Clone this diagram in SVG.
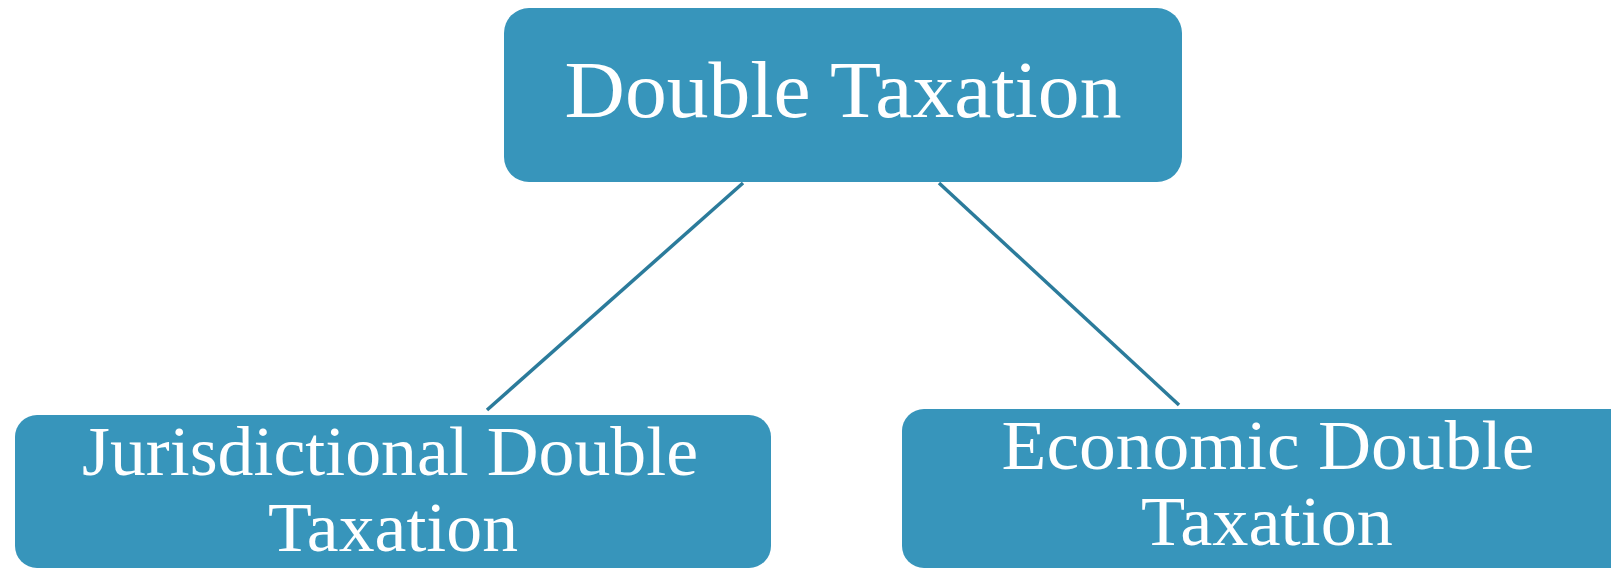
<svg xmlns="http://www.w3.org/2000/svg" width="1611" height="570" viewBox="0 0 1611 570">
  <style>
    .box { fill: #3795bb; }
    .label { fill: #ffffff; font-family: "Liberation Serif", "Times New Roman", serif; text-anchor: middle; }
    .big { font-size: 81px; }
    .small { font-size: 70px; }
    .link { stroke: #2b7b9b; stroke-width: 3.5; fill: none; }
  </style>
  <rect x="0" y="0" width="1611" height="570" fill="#ffffff"/>

  <!-- connectors between the root and its two branches -->
  <g id="connectors">
    <line class="link" x1="743" y1="183" x2="487" y2="410"/>
    <line class="link" x1="939" y1="183" x2="1179" y2="405"/>
  </g>

  <g id="node-double-taxation">
    <rect class="box" x="504" y="8" width="678" height="174" rx="25" ry="25"/>
    <text class="label big" x="843" y="117" textLength="557" lengthAdjust="spacingAndGlyphs">Double Taxation</text>
  </g>

  <g id="node-jurisdictional">
    <rect class="box" x="15" y="415" width="756" height="153" rx="22" ry="22"/>
    <text class="label small" x="390" y="475" textLength="616" lengthAdjust="spacingAndGlyphs">Jurisdictional Double</text>
    <text class="label small" x="393" y="551" textLength="250" lengthAdjust="spacingAndGlyphs">Taxation</text>
  </g>

  <g id="node-economic">
    <rect class="box" x="902" y="409" width="740" height="159" rx="22" ry="22"/>
    <text class="label small" x="1268" y="469" textLength="533" lengthAdjust="spacingAndGlyphs">Economic Double</text>
    <text class="label small" x="1267" y="545" textLength="252" lengthAdjust="spacingAndGlyphs">Taxation</text>
  </g>
</svg>
